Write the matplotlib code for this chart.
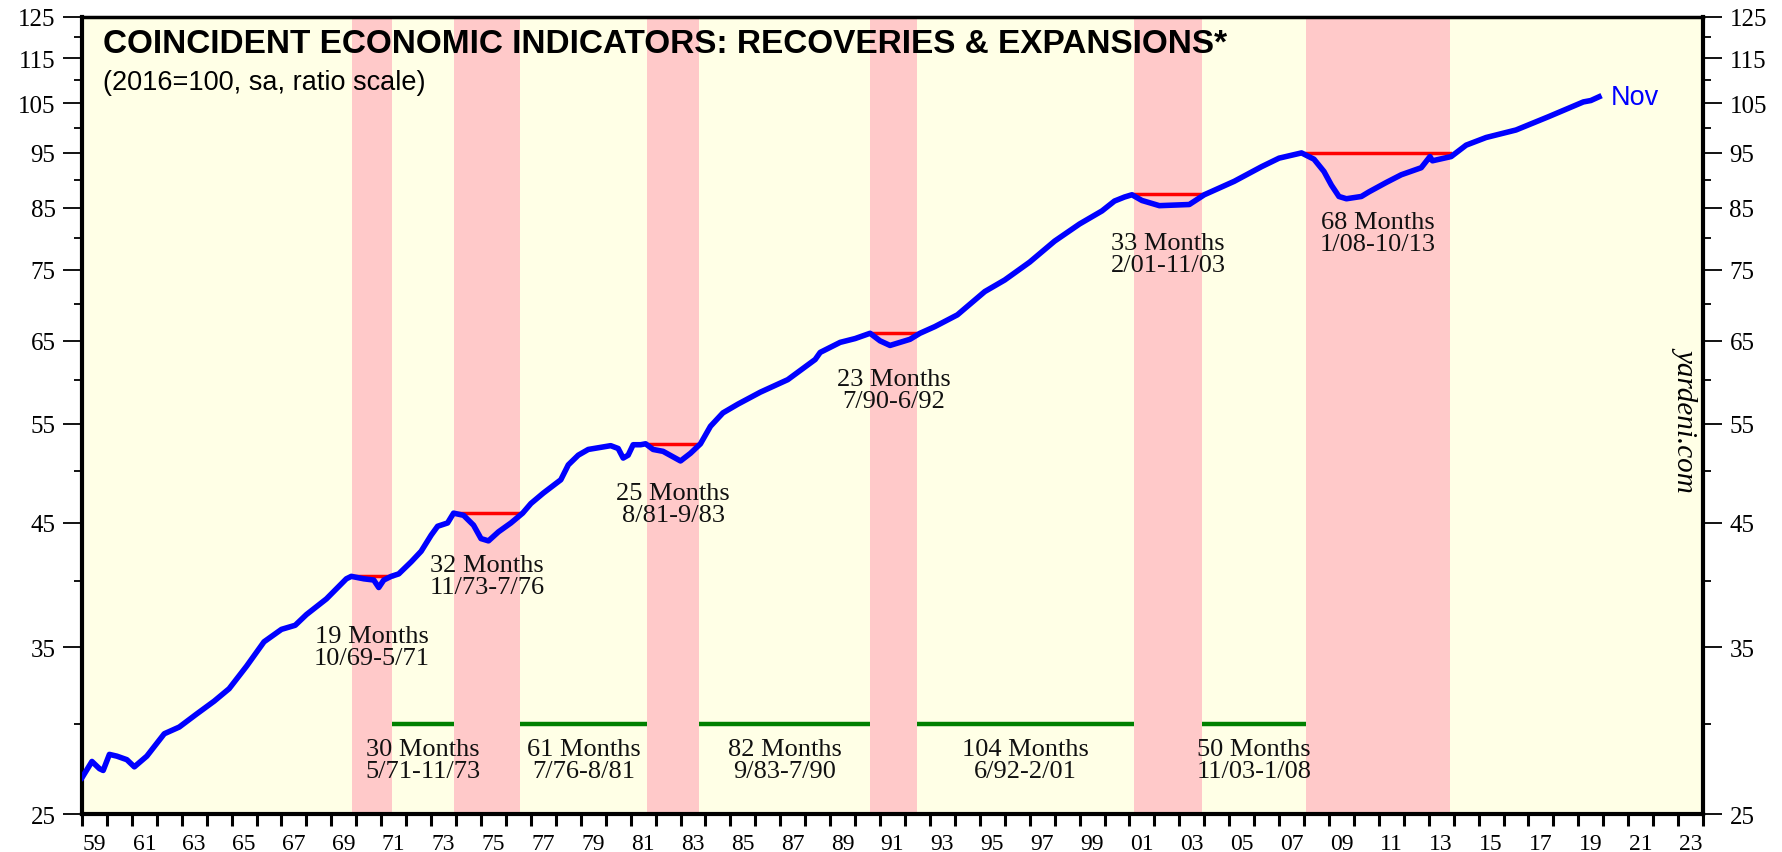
import numpy as np
import matplotlib
matplotlib.use("Agg")
import matplotlib.pyplot as plt
from matplotlib.ticker import FixedLocator, NullFormatter, FixedFormatter

# Coincident economic indicators index (2016=100)
years = [
    1959.0, 1959.4, 1959.7, 1959.85, 1960.1, 1960.4, 1960.8, 1961.1, 1961.6,
    1962.3, 1962.9, 1963.6, 1964.3, 1964.9, 1965.6, 1966.3, 1967.0, 1967.55,
    1968.0, 1968.8, 1969.6, 1969.8, 1970.3, 1970.7, 1970.9, 1971.1, 1971.4,
    1971.7, 1972.2, 1972.6, 1973.0, 1973.26, 1973.66, 1973.9, 1974.3, 1974.7,
    1975.0, 1975.3, 1975.7, 1976.2, 1976.67, 1977.0, 1977.5, 1978.2, 1978.5,
    1978.9, 1979.3, 1980.2, 1980.5, 1980.7, 1980.9, 1981.1, 1981.4, 1981.6,
    1981.9, 1982.3, 1983.0, 1983.4, 1983.8, 1984.2, 1984.7, 1985.3, 1986.2,
    1987.3, 1988.4, 1988.6, 1989.4, 1990.0, 1990.6, 1991.0, 1991.4, 1992.2,
    1992.6, 1993.2, 1994.1, 1995.2, 1996.0, 1997.0, 1998.0, 1999.0, 1999.9,
    2000.4, 2000.8, 2001.1, 2001.5, 2002.2, 2003.4, 2004.0, 2005.2, 2006.3,
    2007.0, 2007.9, 2008.4, 2008.8, 2009.1, 2009.4, 2009.7, 2010.3, 2010.6,
    2011.3, 2011.9, 2012.7, 2013.05, 2013.15, 2013.9, 2014.5, 2015.3, 2016.5,
    2017.8, 2019.2, 2019.5, 2019.83,
]
index_vals = [
    26.9, 27.8, 27.4, 27.3, 28.2, 28.1, 27.9, 27.5, 28.1,
    29.4, 29.8, 30.6, 31.4, 32.2, 33.7, 35.4, 36.3, 36.6,
    37.4, 38.6, 40.2, 40.4, 40.2, 40.1, 39.5, 40.1, 40.4,
    40.6, 41.6, 42.5, 43.9, 44.7, 45.0, 45.9, 45.7, 44.8,
    43.6, 43.4, 44.2, 45.0, 45.9, 46.8, 47.8, 49.1, 50.6,
    51.6, 52.2, 52.6, 52.3, 51.3, 51.6, 52.7, 52.7, 52.8,
    52.2, 52.0, 51.0, 51.8, 52.8, 54.7, 56.2, 57.2, 58.6,
    60.1, 62.6, 63.5, 64.8, 65.3, 66.0, 65.0, 64.4, 65.2,
    66.0, 66.9, 68.5, 71.8, 73.5, 76.2, 79.5, 82.3, 84.5,
    86.2, 86.9, 87.3, 86.3, 85.4, 85.6, 87.3, 89.7, 92.4,
    94.0, 95.0, 93.8, 91.5, 89.0, 87.0, 86.6, 87.0, 87.8,
    89.5, 90.9, 92.2, 94.3, 93.5, 94.3, 96.5, 98.0, 99.5,
    102.2, 105.3, 105.6, 106.4,
]

# Recoveries (back to previous peak) and expansions between them
rec_start = ["10/69", "11/73", "8/81", "7/90", "2/01", "1/08"]
rec_end = ["5/71", "7/76", "9/83", "6/92", "11/03", "10/13"]
rec_months = [19, 32, 25, 23, 33, 68]
rec_peak = [40.4, 45.9, 52.8, 66.0, 87.4, 95.0]

exp_start = ["5/71", "7/76", "9/83", "6/92", "11/03"]
exp_end = ["11/73", "8/81", "7/90", "2/01", "1/08"]
exp_months = [30, 61, 82, 104, 50]
exp_level = 30

y_major = [25, 35, 45, 55, 65, 75, 85, 95, 105, 115, 125]
y_minor = [30, 40, 50, 60, 70, 80, 90, 100, 110, 120]
x_labels = [f"{y % 100:02d}" for y in range(1959, 2024, 2)]


def to_year(s):
    m, yy = s.split("/")
    yy = int(yy)
    yr = 1900 + yy if yy >= 50 else 2000 + yy
    return yr + int(m) / 12.0


SERIF = ["Liberation Serif", "DejaVu Serif"]
SANS = ["Liberation Sans", "DejaVu Sans"]

fig = plt.figure(figsize=(17.82, 8.53), dpi=100)
ax = fig.add_axes([0.046, 0.0445, 0.9097, 0.9344])
ax.set_facecolor("#ffffe6")

ax.set_yscale("log")
ax.set_ylim(25, 125)
ax.set_xlim(1959, 2024)

# shaded recovery periods with red "previous peak" lines
rec_label_y = [35.0, 40.4, 46.8, 58.8, 77.4, 80.8]
for s, e, n, pk, ly in zip(rec_start, rec_end, rec_months, rec_peak, rec_label_y):
    x0, x1 = to_year(s), to_year(e)
    ax.axvspan(x0, x1, color="#ffc9c9", lw=0, zorder=1)
    ax.plot([x0, x1], [pk, pk], color="#ff0000", lw=2.5, zorder=3)
    ax.text((x0 + x1) / 2, ly, f"{n} Months\n{s}-{e}", ha="center", va="center",
            fontsize=19, family=SERIF, linespacing=1.0, color="#111111", zorder=5)

# expansions in green
for s, e, n in zip(exp_start, exp_end, exp_months):
    x0, x1 = to_year(s), to_year(e)
    ax.plot([x0, x1], [exp_level, exp_level], color="#008000", lw=3.2, zorder=3,
            solid_capstyle="butt")
    ax.text((x0 + x1) / 2, 27.9, f"{n} Months\n{s}-{e}", ha="center", va="center",
            fontsize=19, family=SERIF, linespacing=1.0, color="#111111", zorder=5)

ax.plot(years, index_vals, color="#0000ff", lw=4, zorder=4, solid_joinstyle="round")
ax.text(years[-1] + 0.45, index_vals[-1], "Nov", color="#0000ff", fontsize=19.5,
        family=SANS, ha="left", va="center", zorder=5)

# titles
ax.text(0.013, 0.986, "COINCIDENT ECONOMIC INDICATORS: RECOVERIES & EXPANSIONS*",
        transform=ax.transAxes, fontsize=24, fontweight="bold", family=SANS,
        ha="left", va="top")
ax.text(0.013, 0.935, "(2016=100, sa, ratio scale)", transform=ax.transAxes,
        fontsize=19.5, family=SANS, ha="left", va="top")
ax.text(0.9895, 0.497, "yardeni.com", transform=ax.transAxes, rotation=-90,
        fontsize=21, family=SERIF, style="italic", ha="center", va="center")

# y axis: ratio scale, labels on both sides
ax.yaxis.set_major_locator(FixedLocator(y_major))
ax.yaxis.set_major_formatter(FixedFormatter([str(v) for v in y_major]))
ax.yaxis.set_minor_locator(FixedLocator(y_minor))
ax.yaxis.set_minor_formatter(NullFormatter())
ax.tick_params(axis="y", which="major", left=True, right=True, labelleft=True,
               labelright=True, direction="out", length=14, width=1.3, pad=5,
               labelsize=18)
ax.tick_params(axis="y", which="minor", left=True, right=True, direction="out",
               length=6, width=1.3)

# x axis: tick every year, labels centred in odd years
ax.xaxis.set_major_locator(FixedLocator(np.arange(1959, 2025)))
ax.xaxis.set_major_formatter(NullFormatter())
ax.xaxis.set_minor_locator(FixedLocator([y + 0.5 for y in range(1959, 2024, 2)]))
ax.xaxis.set_minor_formatter(FixedFormatter(x_labels))
ax.tick_params(axis="x", which="major", direction="out", length=8.5, width=2.2)
ax.tick_params(axis="x", which="minor", length=0, pad=14, labelsize=17)

for t in ax.xaxis.get_minor_ticks():
    t.label1.set_family(SERIF)
for t in ax.yaxis.get_major_ticks():
    t.label1.set_family(SERIF)
    t.label2.set_family(SERIF)

for side in ["left", "bottom", "right"]:
    ax.spines[side].set_linewidth(3)
ax.spines["top"].set_linewidth(2.5)

fig.savefig("out.png", dpi=100)
